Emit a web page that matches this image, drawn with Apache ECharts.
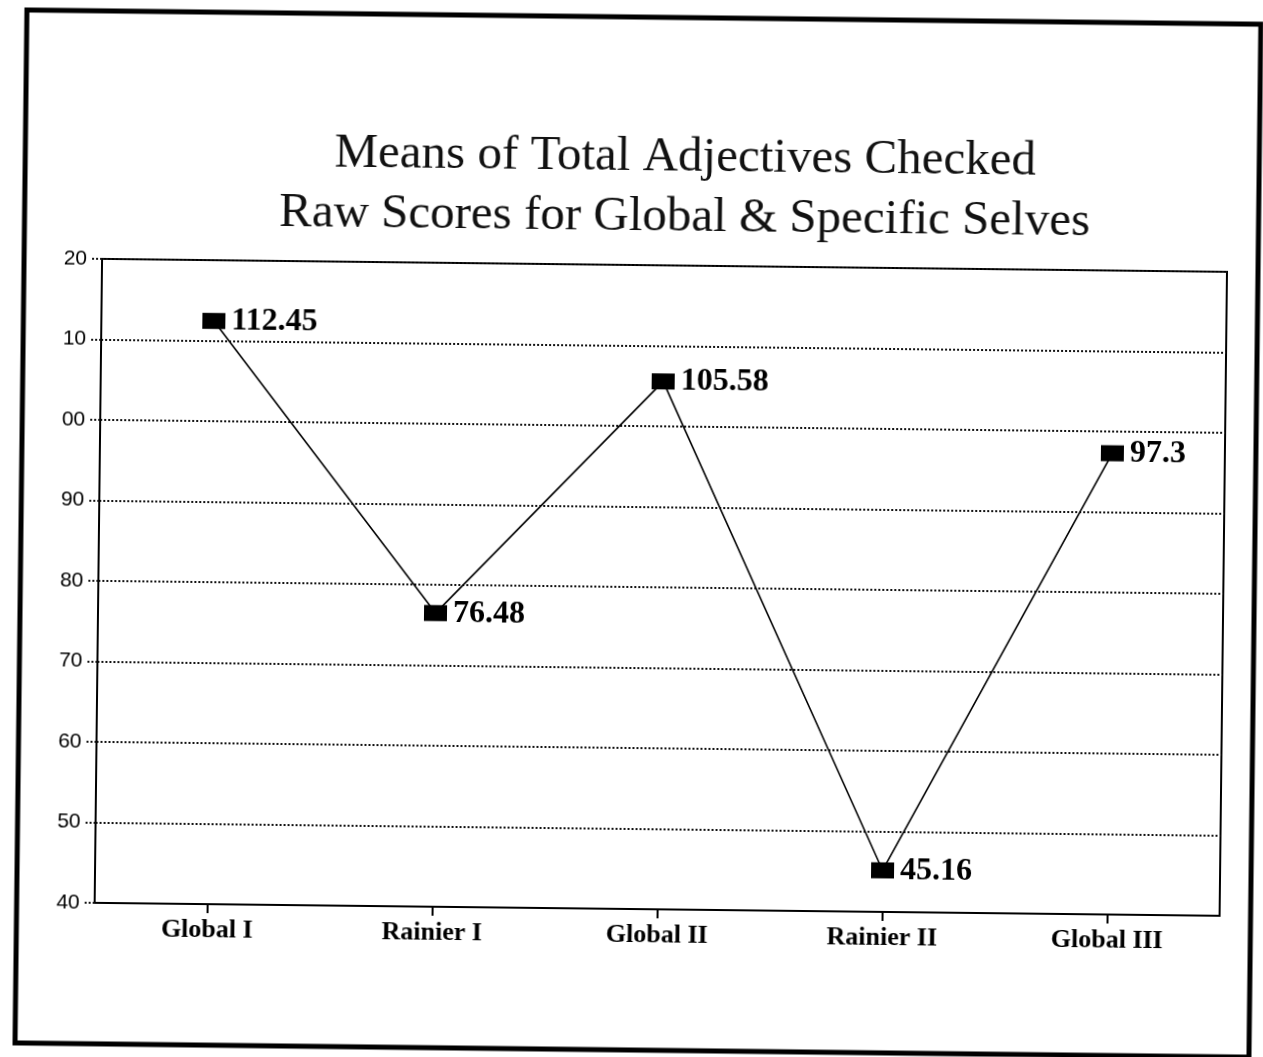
<!DOCTYPE html>
<html>
<head>
<meta charset="utf-8">
<script src="https://cdn.jsdelivr.net/npm/echarts@6/dist/echarts.min.js"></script>
<style>
html,body{margin:0;padding:0;background:#fff;overflow:hidden;}
#chart{width:1263px;height:1057px;transform:rotate(0.66deg);transform-origin:50% 50%;}
</style>
</head>
<body>
<div id="chart"></div>
<script>
var titleLines = ['Means of Total Adjectives Checked', 'Raw Scores for Global & Specific Selves'];
var categories = ['Global I', 'Rainier I', 'Global II', 'Rainier II', 'Global III'];
var values = [112.45, 76.48, 105.58, 45.16, 97.3];
var yTickValues = [40, 50, 60, 70, 80, 90, 100, 110, 120];
var yTickLabels = ['40', '50', '60', '70', '80', '90', '00', '10', '20'];

var chart = echarts.init(document.getElementById('chart'), null, {renderer: 'canvas'});
chart.setOption({
  backgroundColor: '#ffffff',
  animation: false,
  title: {
    text: titleLines.join('\n'),
    left: 681,
    top: 127,
    padding: 0,
    textAlign: 'center',
    textStyle: {
      fontFamily: 'Liberation Serif',
      fontWeight: 'normal',
      fontSize: 49,
      lineHeight: 60,
      color: '#111'
    }
  },
  graphic: [{
    type: 'rect',
    shape: {x: 21, y: 17, width: 1234, height: 1033},
    style: {fill: null, stroke: '#000', lineWidth: 5},
    silent: true
  }],
  grid: {
    left: 99, top: 265, width: 1125, height: 644,
    show: true, borderColor: '#000', borderWidth: 2, backgroundColor: 'transparent'
  },
  xAxis: {
    type: 'category',
    data: categories,
    boundaryGap: true,
    axisLine: {lineStyle: {color: '#000', width: 2}},
    axisTick: {show: true, alignWithLabel: true, length: 9, lineStyle: {color: '#000', width: 2}},
    axisLabel: {
      margin: 13,
      fontFamily: 'Liberation Serif',
      fontWeight: 'bold',
      fontSize: 26,
      color: '#000'
    },
    splitLine: {show: false}
  },
  yAxis: {
    type: 'value',
    min: 40, max: 120, interval: 10,
    axisLine: {show: true, lineStyle: {color: '#000', width: 2}},
    axisTick: {show: true, length: 10, lineStyle: {color: '#111', width: 2, type: [2, 2]}},
    axisLabel: {
      margin: 15,
      fontFamily: 'Liberation Sans',
      fontSize: 21,
      color: '#000',
      formatter: function (v) {
        var i = yTickValues.indexOf(v);
        return i >= 0 ? yTickLabels[i] : '';
      }
    },
    splitLine: {show: true, lineStyle: {color: '#111', width: 2, type: [2, 2]}}
  },
  series: [{
    type: 'line',
    data: values,
    symbol: 'rect',
    symbolSize: [23, 16],
    lineStyle: {color: '#000', width: 1.6},
    itemStyle: {color: '#000'},
    label: {
      show: true,
      position: 'right',
      distance: 6,
      fontFamily: 'Liberation Serif',
      fontWeight: 'bold',
      fontSize: 32,
      color: '#000',
      formatter: function (p) { return String(values[p.dataIndex]); }
    },
    z: 5
  }]
});
</script>
</body>
</html>
